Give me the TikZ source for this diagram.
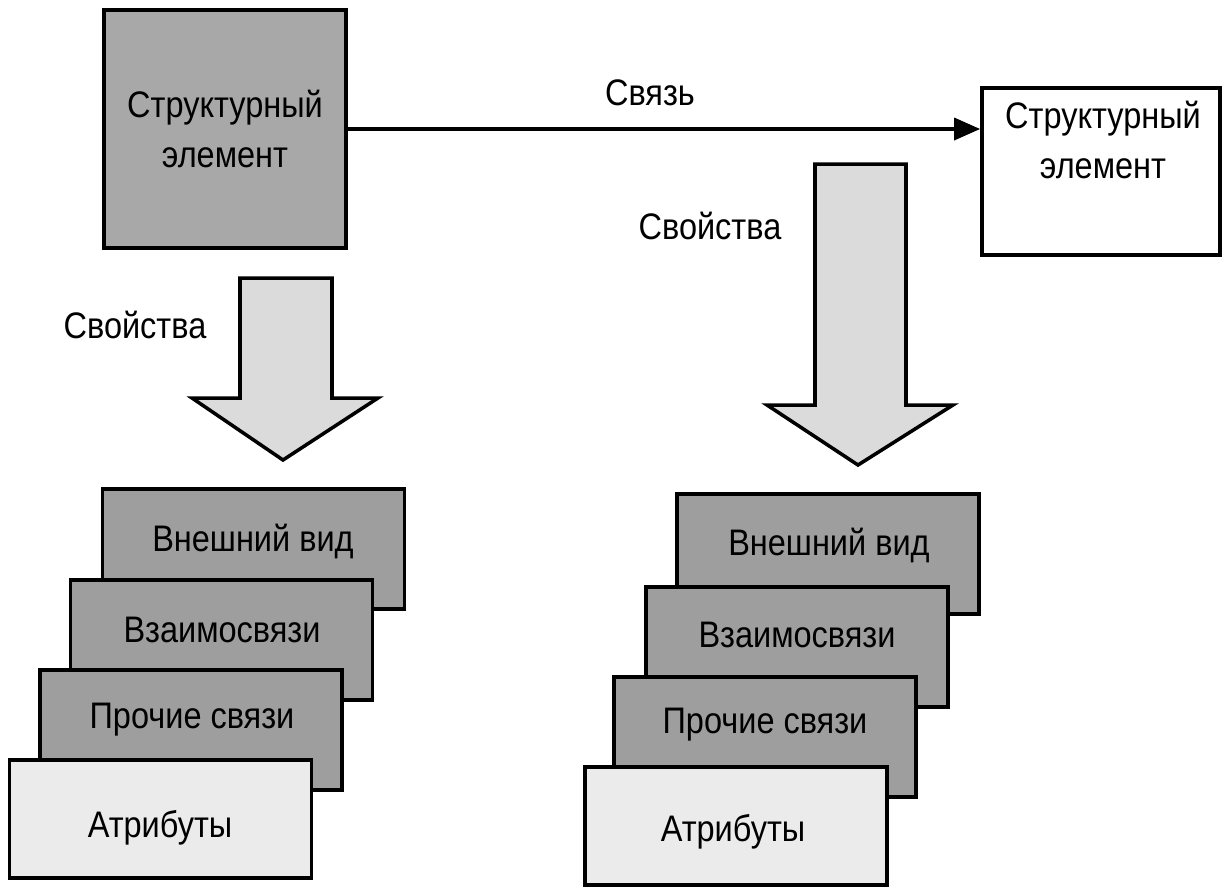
\documentclass[tikz,border=0pt]{standalone}
\usepackage{fontspec}
\setmainfont{Liberation Sans}[FakeStretch=0.88]
\usetikzlibrary{arrows.meta}
\definecolor{elgray}{gray}{0.66}
\definecolor{stackgray}{gray}{0.62}
\definecolor{attrgray}{gray}{0.92}
\definecolor{arrgray}{gray}{0.86}
\tikzset{
  box/.style={draw, line width=1pt, rectangle, inner sep=0pt},
  layer/.style={box, fill=stackgray, minimum width=3.02cm, minimum height=1.2cm},
  attr/.style={box, fill=attrgray, minimum width=3.02cm, minimum height=1.18cm},
  lbl/.style={inner sep=0pt, align=center},
  blk/.style={draw, line width=1pt, fill=arrgray, line join=miter},
  conn/.style={line width=1pt, -{Triangle[length=0.26cm,width=0.22cm]}}
}
\begin{document}
\begin{tikzpicture}[x=0.01cm, y=-0.01cm, font=\fontsize{10.5}{14}\selectfont]
\useasboundingbox (0,0) rectangle (1229,890);
% structural elements
\node[box, fill=elgray, minimum width=2.42cm, minimum height=2.38cm, align=center] (L) at (225,129) {Структурный\\элемент};
\node[box, fill=white, minimum width=2.38cm, minimum height=1.67cm] (R) at (1101,171.5) {};
\node[lbl] (Rt) at (1103,140) {Структурный\\элемент};
% connector
\draw[conn] (L.east) -- (L.east -| R.west);
\node[lbl] (sv) at (650,93) {Связь};
% block arrows
\draw[blk] (240,278) -- (332,278) -- (332,398) -- (378,398) -- (283,460) -- (192,398) -- (240,398) -- cycle;
\draw[blk] (815,164) -- (906,164) -- (906,405) -- (953,405) -- (858,465) -- (767,405) -- (815,405) -- cycle;
\node[lbl] (p1) at (135,325) {Свойства};
\node[lbl] (p2) at (710,226) {Свойства};
% left stack
\node[layer] (A1) at (253.5,549) {};
\node[lbl] (A1t) at (253,541) {Внешний вид};
\node[layer] (A2) at (221.5,640) {};
\node[lbl] (A2t) at (222,630) {Взаимосвязи};
\node[layer] (A3) at (191,730) {};
\node[lbl] (A3t) at (192,720) {Прочие связи};
\node[attr] (A4) at (160.5,819) {};
\node[lbl] (A4t) at (160,828) {Атрибуты};
% right stack
\node[layer] (B1) at (828,554) {};
\node[lbl] (B1t) at (829,545) {Внешний вид};
\node[layer] (B2) at (797,647) {};
\node[lbl] (B2t) at (797,635) {Взаимосвязи};
\node[layer] (B3) at (765,737) {};
\node[lbl] (B3t) at (765,725) {Прочие связи};
\node[attr] (B4) at (736,826) {};
\node[lbl] (B4t) at (733,832) {Атрибуты};
\end{tikzpicture}
\end{document}
